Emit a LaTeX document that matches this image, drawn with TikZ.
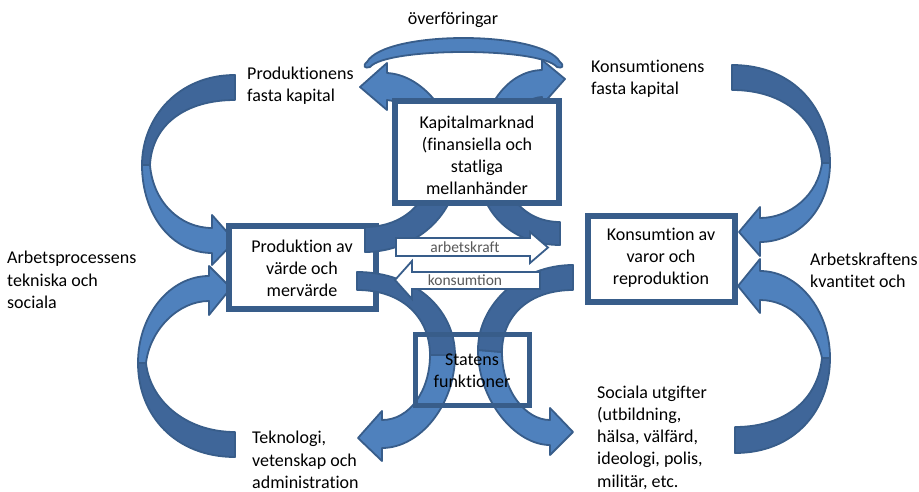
\documentclass[tikz,border=0pt]{standalone}
\usepackage{fontspec}
\setmainfont{Carlito}[Ligatures=NoCommon]
\newfontfamily\ligfont{Carlito}
\definecolor{lf}{HTML}{4F81BD}
\definecolor{df}{HTML}{3F6699}
\definecolor{st}{HTML}{385D8A}
\definecolor{gt}{HTML}{595959}
\begin{document}
\begin{tikzpicture}[x=1pt,y=-1pt,
  tailpart/.style={fill=df, draw=st, line width=1.8pt, line join=round},
  headpart/.style={fill=lf, draw=st, line width=1.8pt, line join=round},
  frame/.style={draw=st, line width=5.5pt, fill=white, inner sep=0pt},
  openframe/.style={draw=st, line width=5.5pt, inner sep=0pt},
  flow/.style={fill=white, draw=st, line width=1.8pt, line join=miter},
  lbl/.style={font=\fontsize{18}{22.2}\selectfont, inner sep=0pt, text=black},
  boxlbl/.style={lbl, align=center},
  sidelbl/.style={lbl, align=left, anchor=west},
  flowlbl/.style={font=\fontsize{15.5}{18}\selectfont, inner sep=0pt, text=gt}
]
\useasboundingbox (0,0) rectangle (919,492);

% outer curved arrows
% A
\path[tailpart] (235,75) .. controls (178,75) and (142,118) .. (142,165) -- (150,165) .. controls (152,125) and (185,100) .. (235,100) -- cycle;
\path[headpart] (142,165) .. controls (142,215) and (172,253) .. (212,253) -- (212,265) -- (235,241) -- (212,215) -- (212,228) .. controls (180,228) and (153,202) .. (150,165) -- cycle;
% B
\path[tailpart] (235,457) .. controls (175,457) and (138,415) .. (138,363) -- (146,363) .. controls (150,400) and (185,432) .. (235,432) -- cycle;
\path[headpart] (138,363) .. controls (138,315) and (170,276) .. (209,276) -- (209,266) -- (231,288) -- (209,315) -- (209,301) .. controls (178,301) and (150,330) .. (146,363) -- cycle;
% C
\path[tailpart] (732,65) .. controls (795,65) and (830,110) .. (830,163) -- (822,163) .. controls (818,120) and (785,90) .. (732,90) -- cycle;
\path[headpart] (830,163) .. controls (830,210) and (797,242) .. (760,242) -- (760,256) -- (739,232) -- (760,207) -- (760,218) .. controls (790,218) and (818,195) .. (822,163) -- cycle;
% D
\path[tailpart] (735,453) .. controls (795,453) and (830,410) .. (830,358) -- (822,358) .. controls (818,400) and (785,427) .. (735,427) -- cycle;
\path[headpart] (830,358) .. controls (830,310) and (798,271) .. (760,271) -- (760,259) -- (738,286) -- (760,313) -- (760,300) .. controls (790,300) and (815,325) .. (822,358) -- cycle;

% boxes under central arrows
\node[frame, minimum width=147pt, minimum height=83pt] (prodbox) at (302.5,267.5) {};
\node[frame, minimum width=147pt, minimum height=86pt] (konsbox) at (661.5,259) {};

% overforingar arc
\path[headpart] (367,62) .. controls (385,30) and (542,30) .. (560,62) .. controls (565,66) and (562,69) .. (557,67) .. controls (540,47) and (387,47) .. (370,67) .. controls (365,69) and (362,66) .. (367,62) -- cycle;

% G
\path[headpart] (458,165) .. controls (458,120) and (425,75) .. (387,73) -- (387,63) -- (360,87) -- (387,110) -- (387,100) .. controls (410,102) and (432,130) .. (432,162) -- cycle;
\path[tailpart] (365,252) .. controls (415,252) and (458,215) .. (458,165) -- (432,162) .. controls (432,200) and (405,227) .. (365,227) -- cycle;
% H
\path[headpart] (478,165) .. controls (478,112) and (505,71) .. (542,70) -- (542,60) -- (565,79) -- (542,105) -- (542,97) .. controls (520,98) and (502,125) .. (502,160) -- cycle;
\path[tailpart] (560,245) .. controls (515,245) and (478,215) .. (478,165) -- (502,160) .. controls (502,195) and (525,222) .. (560,222) -- cycle;
% I
\path[headpart] (455,355) .. controls (455,405) and (420,448) .. (382,448) -- (382,461) -- (358,438) -- (382,411) -- (382,420) .. controls (410,420) and (430,390) .. (430,355) -- cycle;
\path[tailpart] (357,272) .. controls (415,272) and (455,310) .. (455,355) -- (430,355) .. controls (430,320) and (405,290) .. (357,290) -- cycle;
% J
\path[headpart] (478,350) .. controls (478,400) and (515,445) .. (550,445) -- (550,455) -- (573,432) -- (550,408) -- (550,420) .. controls (525,420) and (502,390) .. (502,352) -- cycle;
\path[tailpart] (573,265) .. controls (520,265) and (478,305) .. (478,350) -- (502,352) .. controls (502,315) and (530,290) .. (573,290) -- cycle;

% straight flow arrows
\path[flow] (396,238) -- (530,238) -- (530,232) -- (548,247.5) -- (530,263) -- (530,256) -- (396,256) -- cycle;
\path[flow] (540,272) -- (412,272) -- (412,261) -- (395,280) -- (412,299) -- (412,289) -- (540,289) -- cycle;

% boxes over arrows
\node[frame, minimum width=164pt, minimum height=102pt] (kapbox) at (477,152) {};
\node[openframe, minimum width=114pt, minimum height=71pt] (statbox) at (472.5,370) {};

% texts
\node[boxlbl] (kaptxt) at (477,155.5) {Kapitalmarknad\\(finansiella och\\statliga\\mellanhänder};
\node[boxlbl] (prodtxt) at (302,268.5) {Produktion av\\värde och\\mervärde};
\node[boxlbl] (konstxt) at (661,257.5) {Konsumtion av\\varor och\\reproduktion};
\node[boxlbl] (stattxt) at (472,370.5) {Statens\\funktioner};
\node[lbl] (overf) at (453,20) {överföringar};
\node[sidelbl] (pfk) at (247,86) {Produktionens\\fasta kapital};
\node[sidelbl] (kfk) at (591,79) {Konsumtionens\\fasta kapital};
\node[sidelbl] (apts) at (7,280) {Arbetsprocessens\\tekniska och\\sociala};
\node[sidelbl] (akk) at (810,270) {Arbetskraftens\\kvantitet och};
\node[sidelbl] (tva) at (252,460) {Teknologi,\\vetenskap och\\administration};
\node[sidelbl] (sut) at (597,437.5) {Sociala utgifter\\(utbildning,\\hälsa, välfärd,\\ideologi, polis,\\militär, etc.};
\node[flowlbl] (arbk) at (465,247) {arbetskraft};
\node[flowlbl] (kons) at (465,280) {\ligfont konsumtion};
\end{tikzpicture}
\end{document}
